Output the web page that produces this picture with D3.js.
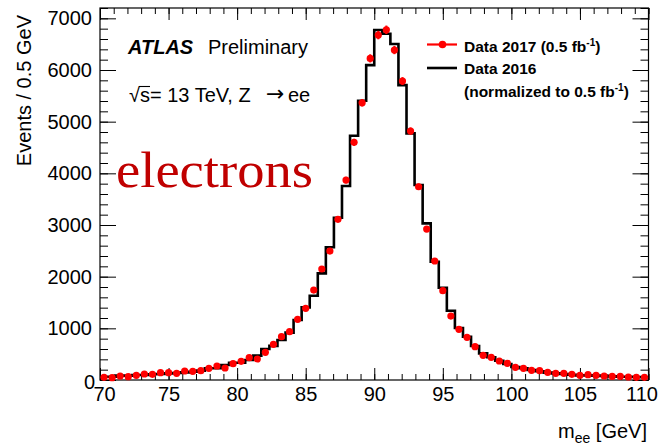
<!DOCTYPE html>
<html>
<head>
<meta charset="utf-8">
<script src="https://cdn.jsdelivr.net/npm/d3@7"></script>
<style>
  body { margin: 0; background: #fff; }
  text { font-family: "Liberation Sans", Arial, sans-serif; }
</style>
</head>
<body>
<svg id="chart" width="658" height="445"></svg>
<script>
// binning of the mass window
const massRange = [70, 110];
const nBins = 68;

// Data 2017 (0.5 fb-1), events per bin
const data2017 = [
  52, 45, 77, 64, 90, 116, 110, 142, 142, 129, 174, 168, 180, 226, 271, 232, 316, 361, 432, 406, 535, 690,
  838, 935, 1174, 1387, 1741, 2148, 2496, 3110, 3870,
  4600, 5366, 6225, 6676, 6778, 6386, 5786, 4818, 3740, 2922, 2303,
  1728, 1238, 981, 826, 645, 477, 439, 368, 323, 245, 226, 187, 180, 148, 129, 129, 110, 90, 103, 90, 77, 71, 71, 58, 52, 52
];

// Data 2016 normalized to 0.5 fb-1
const data2016 = [
  64, 64, 84, 84, 97, 97, 110, 116, 129, 135, 148, 160, 181, 226, 226, 290, 335, 335, 387, 471, 600, 660,
  774, 916, 1161, 1406, 1631, 2064, 2568, 3140, 3754,
  4727, 5405, 6095, 6773, 6701, 6502, 5708, 4774, 3773, 3032, 2289,
  1786, 1341, 1006, 838, 658, 516, 439, 374, 310, 252, 226, 194, 168, 142, 129, 116, 103, 90, 90, 84, 77, 71, 64, 64, 58, 52
];

const xTickLabels = [70, 75, 80, 85, 90, 95, 100, 105, 110];
const yTickLabels = [0, 1000, 2000, 3000, 4000, 5000, 6000, 7000];

const svg = d3.select("#chart");
const pLeft = 100, pRight = 648.5, pTop = 8, pBottom = 380;

const x = d3.scaleLinear().domain(massRange).range([pLeft, pRight]);
const y = d3.scaleLinear().domain([0, 7200]).range([pBottom, pTop]);
const binW = (massRange[1] - massRange[0]) / nBins;
const binLo = i => massRange[0] + i * binW;

const minorX = d3.range(70, 111, 1);
const minorY = d3.range(0, 7201, 200);

// bottom axis
svg.append("g").attr("transform", `translate(0,${pBottom})`)
  .call(d3.axisBottom(x).tickValues(minorX).tickSize(-6).tickSizeOuter(0).tickFormat(""));
svg.append("g").attr("transform", `translate(0,${pBottom})`)
  .call(d3.axisBottom(x).tickValues(xTickLabels).tickSize(-12).tickSizeOuter(0).tickPadding(7).tickFormat(d3.format("d")))
  .call(g => g.selectAll("text").style("font-size", "20px").attr("fill", "#000")
    .attr("dx", d => d === 70 ? 4 : d === 110 ? -7 : 0));

// top axis
svg.append("g").attr("transform", `translate(0,${pTop})`)
  .call(d3.axisTop(x).tickValues(minorX).tickSize(-6).tickSizeOuter(0).tickFormat(""));
svg.append("g").attr("transform", `translate(0,${pTop})`)
  .call(d3.axisTop(x).tickValues(xTickLabels).tickSize(-12).tickSizeOuter(0).tickFormat(""));

// left axis
svg.append("g").attr("transform", `translate(${pLeft},0)`)
  .call(d3.axisLeft(y).tickValues(minorY).tickSize(-8).tickSizeOuter(0).tickFormat(""));
svg.append("g").attr("transform", `translate(${pLeft},0)`)
  .call(d3.axisLeft(y).tickValues(yTickLabels).tickSize(-16).tickSizeOuter(0).tickPadding(8).tickFormat(d3.format("d")))
  .call(g => g.selectAll("text").style("font-size", "20px").attr("fill", "#000")
    .attr("dx", d => d === 0 ? 3 : 0)
    .attr("dy", d => d === 0 ? "0.42em" : "0.32em"));

// right axis
svg.append("g").attr("transform", `translate(${pRight},0)`)
  .call(d3.axisRight(y).tickValues(minorY).tickSize(-8).tickSizeOuter(0).tickFormat(""));
svg.append("g").attr("transform", `translate(${pRight},0)`)
  .call(d3.axisRight(y).tickValues(yTickLabels).tickSize(-16).tickSizeOuter(0).tickFormat(""));

svg.selectAll(".domain").remove();
svg.selectAll(".tick line").attr("stroke", "#000").attr("stroke-width", 1);

// frame
svg.append("rect")
  .attr("x", pLeft).attr("y", pTop)
  .attr("width", pRight - pLeft).attr("height", pBottom - pTop)
  .attr("fill", "none").attr("stroke", "#000").attr("stroke-width", 1.2);

// 2016 histogram as steps
const steps = [];
data2016.forEach((v, i) => {
  steps.push([binLo(i), v]);
  steps.push([binLo(i + 1), v]);
});
svg.append("path")
  .attr("d", d3.line().x(d => x(d[0])).y(d => y(d[1]))(steps))
  .attr("fill", "none").attr("stroke", "#000").attr("stroke-width", 2.6);

// 2017 points with statistical error bars
const pts = svg.append("g");
pts.selectAll("line").data(data2017).enter().append("line")
  .attr("x1", (d, i) => x(binLo(i) + binW / 2))
  .attr("x2", (d, i) => x(binLo(i) + binW / 2))
  .attr("y1", d => y(d + Math.sqrt(d)))
  .attr("y2", d => y(d - Math.sqrt(d)))
  .attr("stroke", "#ff0000").attr("stroke-width", 2);
pts.selectAll("circle").data(data2017).enter().append("circle")
  .attr("cx", (d, i) => x(binLo(i) + binW / 2))
  .attr("cy", d => y(d))
  .attr("r", 3.6)
  .attr("fill", "#ff0000");

// axis titles
svg.append("text")
  .attr("transform", "translate(31,15) rotate(-90)")
  .attr("text-anchor", "end")
  .style("font-size", "20px")
  .text("Events / 0.5 GeV");

const xt = svg.append("text")
  .attr("x", 647).attr("y", 438)
  .attr("text-anchor", "end")
  .style("font-size", "20px");
xt.append("tspan").text("m");
xt.append("tspan").attr("dy", 5).style("font-size", "14px").text("ee");
xt.append("tspan").attr("dy", -5).text(" [GeV]");

// labels
svg.append("text").attr("x", 128).attr("y", 54)
  .style("font-size", "20px").style("font-weight", "bold").style("font-style", "italic")
  .text("ATLAS");
svg.append("text").attr("x", 208).attr("y", 54)
  .style("font-size", "20px").text("Preliminary");
const sq = svg.append("text").attr("x", 129).attr("y", 102)
  .style("font-size", "20px")
  .text("\u221As= 13 TeV, Z");
// bar over the s of the square root
const sqNode = sq.node();
const sqStart = 129 + sqNode.getSubStringLength(0, 1) - 1;
const sqEnd = 129 + sqNode.getSubStringLength(0, 2);
svg.append("line").attr("x1", sqStart).attr("x2", sqEnd)
  .attr("y1", 86.5).attr("y2", 86.5).attr("stroke", "#000").attr("stroke-width", 1.1);
svg.append("text").attr("x", 266).attr("y", 101)
  .style("font-family", "'DejaVu Sans', sans-serif").style("font-size", "22px")
  .text("\u2192");
svg.append("text").attr("x", 288).attr("y", 102)
  .style("font-size", "20px").text("ee");

svg.append("text").attr("x", 116).attr("y", 187)
  .style("font-family", "'Liberation Serif', 'DejaVu Serif', serif")
  .style("font-size", "50px")
  .attr("fill", "#c00000")
  .attr("textLength", 197).attr("lengthAdjust", "spacingAndGlyphs")
  .text("electrons");

// legend
const legend = svg.append("g");
legend.append("line").attr("x1", 427).attr("x2", 457).attr("y1", 44.5).attr("y2", 44.5)
  .attr("stroke", "#ff0000").attr("stroke-width", 2.2);
legend.append("circle").attr("cx", 442.5).attr("cy", 44.5).attr("r", 3.8).attr("fill", "#ff0000");
legend.append("line").attr("x1", 427).attr("x2", 457).attr("y1", 68).attr("y2", 68)
  .attr("stroke", "#000").attr("stroke-width", 2.6);

function fbText(g, yPos, pre) {
  const t = g.append("text").attr("x", 464).attr("y", yPos)
    .style("font-size", "15.5px").style("font-weight", "bold");
  t.append("tspan").text(pre);
  t.append("tspan").attr("dy", -6).style("font-size", "10px").text("-1");
  t.append("tspan").attr("dy", 6).text(")");
}
fbText(legend, 51.5, "Data 2017 (0.5 fb");
legend.append("text").attr("x", 464).attr("y", 74)
  .style("font-size", "15.5px").style("font-weight", "bold").text("Data 2016");
fbText(legend, 97, "(normalized to 0.5 fb");
</script>
</body>
</html>
